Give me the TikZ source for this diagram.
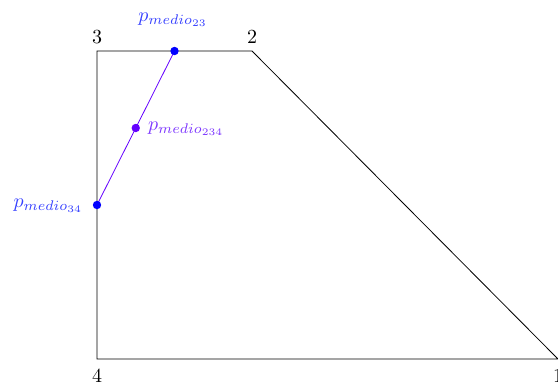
\documentclass[tikz,border=0pt]{standalone}
\usetikzlibrary{calc}
\begin{document}
\definecolor{linev}{RGB}{100,0,255}
\definecolor{labv}{RGB}{125,55,255}
\definecolor{labb}{RGB}{55,65,255}
\begin{tikzpicture}[x=0.5pt,y=-0.5pt,
  dot/.style={circle,fill=#1,inner sep=0pt,minimum size=4.2pt},
  vlab/.style={inner sep=0pt}]
\useasboundingbox (0,0) rectangle (558,382);
\coordinate (v3) at (97,51);
\coordinate (v2) at (252,51);
\coordinate (v1) at (558,359);
\coordinate (v4) at (97,359);
\draw[line width=0.4pt] (v4) -- (v1) -- (v2) -- (v3) -- cycle;
\node[vlab] (l3) at (97,37) {3};
\node[vlab] (l2) at (252,37) {2};
\node[vlab] (l4) at (97,376) {4};
\node[vlab] (l1) at (558,376) {1};
\coordinate (m23) at ($(v3)!0.5!(v2)$);
\coordinate (m34) at ($(v3)!0.5!(v4)$);
\coordinate (m234) at ($(m23)!0.5!(m34)$);
\draw[linev,line width=0.4pt] (m23) -- (m34);
\node[dot=blue] (p23) at (m23) {};
\node[dot=blue] (p34) at (m34) {};
\node[dot=linev] (p234) at (m234) {};
\node[labb,anchor=center] (t23) at (173,20) {$p_{medio_{23}}$};
\node[labb,anchor=east] (t34) at (90,206) {$p_{medio_{34}}$};
\node[labv,anchor=west] (t234) at (141,129) {$p_{medio_{234}}$};
\end{tikzpicture}
\end{document}
